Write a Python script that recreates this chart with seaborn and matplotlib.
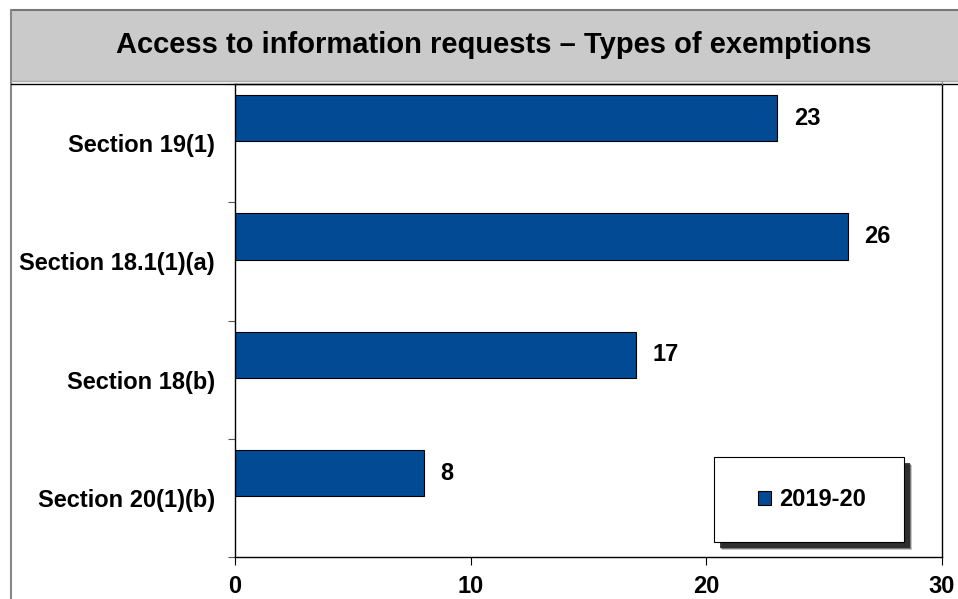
import matplotlib
matplotlib.use("Agg")
import matplotlib.pyplot as plt
import seaborn as sns
import pandas as pd
from matplotlib.patches import Rectangle, Patch
from matplotlib.lines import Line2D

categories = ["Section 19(1)", "Section 18.1(1)(a)", "Section 18(b)", "Section 20(1)(b)"]
values = [23, 26, 17, 8]
series_name = "2019-20"
x_ticks = [0, 10, 20, 30]
title = "Access to information requests \u2013 Types of exemptions"

sns.set_theme(style="white")
plt.rcParams['font.family'] = ['Liberation Sans', 'DejaVu Sans']
plt.rcParams['font.weight'] = 'bold'
plt.rcParams['text.color'] = 'black'
plt.rcParams['xtick.color'] = 'black'
plt.rcParams['ytick.color'] = 'black'

BAR = "#024A93"
W, H = 958, 599
fig = plt.figure(figsize=(W / 100, H / 100), dpi=100)
fig.patch.set_facecolor("white")

def fx(px):
    return px / W

def fy(py):
    return 1 - py / H

# Title band
fig.patches.append(Rectangle((fx(11), fy(82)), fx(W - 11), (82 - 10) / H,
                             transform=fig.transFigure, facecolor="#cacaca",
                             edgecolor="none", zorder=0))
fig.add_artist(Line2D([fx(11), 1], [fy(9.5), fy(9.5)], transform=fig.transFigure,
                      color="#777777", linewidth=1.5))
fig.add_artist(Line2D([fx(11), fx(11)], [0, fy(9.5)], transform=fig.transFigure,
                      color="#888888", linewidth=1.5))
fig.add_artist(Line2D([fx(11), 1], [fy(81), fy(81)], transform=fig.transFigure,
                      color="#aaaaaa", linewidth=1.0))
fig.add_artist(Line2D([fx(11), 1], [fy(84), fy(84)], transform=fig.transFigure,
                      color="black", linewidth=1.0))
fig.add_artist(Line2D([fx(942), fx(942)], [fy(84), fy(81)], transform=fig.transFigure,
                      color="#888888", linewidth=0.8))
fig.text(fx(494), fy(45), title, ha="center", va="center",
         fontsize=21, fontweight="bold", color="black")

ax = fig.add_axes([fx(235), fy(557), (942 - 235) / W, (557 - 84) / H])
df = pd.DataFrame({"Section": categories, "Requests": values, "Year": series_name})
sns.barplot(data=df, y="Section", x="Requests", hue="Year", orient="h",
            palette=[BAR], saturation=1, width=0.39, dodge=False, edgecolor="black",
            linewidth=0.8, ax=ax, legend=False)

# Excel-style clustered placement: bar sits in the upper part of each category band
shift = -0.21
for p in ax.patches:
    p.set_y(p.get_y() + shift)

ax.set_xlim(0, 30)
ax.set_ylim(3.5, -0.5)
ax.set_xticks(x_ticks)
ax.set_xticklabels([str(t) for t in x_ticks], fontsize=17, fontweight="bold")
ax.set_yticks(range(len(categories)))
ax.set_yticklabels(categories, fontsize=17, fontweight="bold")
ax.tick_params(axis="y", length=0, pad=14.5)
ax.set_yticks([-0.5, 0.5, 1.5, 2.5, 3.5], minor=True)
ax.tick_params(axis="y", which="minor", length=5, width=0.8, color="#555555", direction="out", left=True)
ax.tick_params(axis="x", length=6, width=0.8, color="black", direction="out", bottom=True, pad=7)
ax.set_xlabel("")
ax.set_ylabel("")
for s in ["left", "bottom", "right", "top"]:
    ax.spines[s].set_visible(True)
    ax.spines[s].set_color("black")
    ax.spines[s].set_linewidth(1.0)
ax.grid(False)

for i, v in enumerate(values):
    ax.annotate(str(v), (v, i + shift), xytext=(12, 0), textcoords="offset points",
                ha="left", va="center", fontsize=17, fontweight="bold", color="black")

# Legend box with shadow
lx0, lx1, ly0, ly1 = 714, 904, 457, 542
for k, a in [(8, 0.25), (7, 0.45), (6, 0.85)]:
    fig.patches.append(Rectangle((fx(lx0 + k), fy(ly1 + k)), (lx1 - lx0) / W, (ly1 - ly0) / H,
                                 transform=fig.transFigure, facecolor="#222222",
                                 edgecolor="none", alpha=a, zorder=5))
fig.patches.append(Rectangle((fx(lx0), fy(ly1)), (lx1 - lx0) / W, (ly1 - ly0) / H,
                             transform=fig.transFigure, facecolor="white",
                             edgecolor="black", linewidth=0.8, zorder=6))
handle = Patch(facecolor=BAR, edgecolor="black", linewidth=0.8, label=series_name)
leg = fig.legend(handles=[handle], loc="center",
                 bbox_to_anchor=(fx((lx0 + lx1) / 2 + 3), fy((ly0 + ly1) / 2)),
                 frameon=False, handlelength=0.55, handleheight=0.55,
                 handletextpad=0.35, prop={"weight": "bold", "size": 17})
leg.set_zorder(7)

fig.savefig("out.png", dpi=100)
